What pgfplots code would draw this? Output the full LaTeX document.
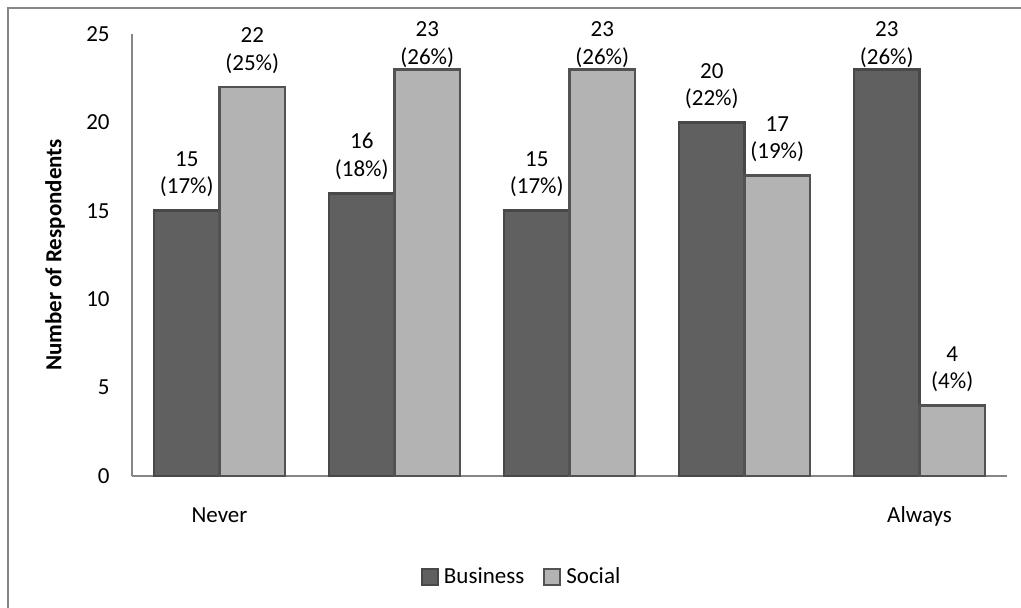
\documentclass[border=0pt]{standalone}
\usepackage{pgfplots}
\pgfplotsset{compat=1.18}
\usepackage{pgfplotstable}
\usepackage{fontspec}
\setmainfont{Carlito}

\definecolor{bizfill}{RGB}{96,96,96}
\definecolor{bizedge}{RGB}{72,72,72}
\definecolor{socfill}{RGB}{179,179,179}
\definecolor{socedge}{RGB}{82,82,82}
\definecolor{axisgray}{RGB}{134,134,134}

% responses per frequency level, with their share of all respondents (%)
\pgfplotstableread{
x biz bizpct soc socpct
0 15 17 22 25
1 16 18 23 26
2 15 17 23 26
3 20 22 17 19
4 23 26 4  4
}\freq

\begin{document}
\fontsize{11.5}{13.6}\selectfont
\begin{tikzpicture}
\useasboundingbox (0,0) rectangle (510.5pt,-304pt);
% chart frame
\draw[axisgray, line width=1.4pt] (4pt,-310pt) -- (4pt,-4pt) -- (515pt,-4pt);
\begin{axis}[
  at={(66pt,-238pt)}, anchor=south west,
  scale only axis, width=437.5pt, height=221pt,
  ybar=0pt, bar width=32.75pt,
  xmin=-0.5, xmax=4.5, ymin=0, ymax=25,
  ytick={0,5,...,25},
  xtick={0,...,4}, xticklabels={Never,,,,Always},
  axis x line*=bottom, axis y line*=left,
  axis line style={axisgray, line width=1.2pt, -},
  major tick length=0pt,
  /pgf/number format/assume math mode=true,
  yticklabel style={anchor=east, inner sep=0pt, xshift=-11pt},
  xticklabel style={anchor=base, inner sep=0pt, yshift=-23pt},
  ylabel={\textbf{Number of Respondents}},
  ylabel style={at={(axis description cs:-0.088,0.5)}, anchor=center},
  clip=false,
  nodes near coords={\pgfmathprintnumber{\pgfplotspointmeta}\\(\pgfmathprintnumber{\pct}\%)},
  every node near coord/.append style={align=center, anchor=south, inner sep=0pt, yshift=\lshift pt},
  legend style={at={(axis description cs:0.447,-0.2285)}, anchor=center, draw=none,
    legend columns=2, /tikz/every even column/.append style={column sep=7pt},
    nodes={inner sep=2.5pt}},
]
\addplot[fill=bizfill, draw=bizedge, line width=1.4pt,
  legend image code/.code={\draw[fill=bizfill, draw=bizedge, line width=1pt] (0pt,-4pt) rectangle (8pt,4pt);},
  visualization depends on={\thisrow{bizpct} \as \pct},
  visualization depends on={min(10.5,(23.36-\thisrow{biz})*8.84+1.5)-4.3 \as \lshift}]
  table[x=x, y=biz] {\freq};
\addlegendentry{Business}
\addplot[fill=socfill, draw=socedge, line width=1.4pt,
  legend image code/.code={\draw[fill=socfill, draw=socedge, line width=1pt] (0pt,-4pt) rectangle (8pt,4pt);},
  visualization depends on={\thisrow{socpct} \as \pct},
  visualization depends on={min(10.5,(23.36-\thisrow{soc})*8.84+1.5)-4.3 \as \lshift}]
  table[x=x, y=soc] {\freq};
\addlegendentry{Social}
\end{axis}
\end{tikzpicture}
\end{document}
